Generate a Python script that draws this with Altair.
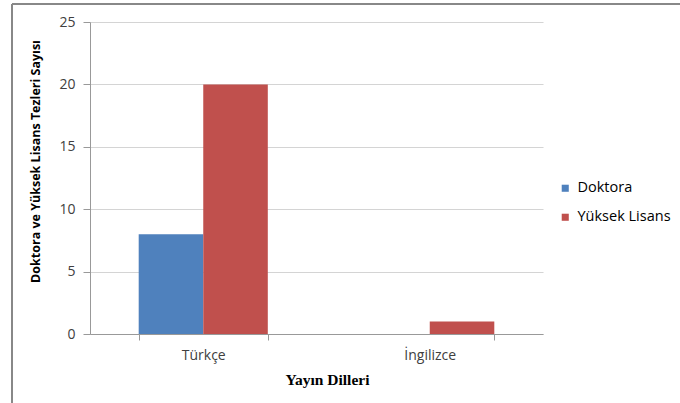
import altair as alt
import pandas as pd

diller = ["Türkçe", "İngilizce"]
turler = ["Doktora", "Yüksek Lisans"]
doktora = [8, 0]
yuksek_lisans = [20, 1]
renkler = ["#4F81BD", "#C0504D"]

rows = []
for i, d in enumerate(diller):
    rows.append({"Dil": d, "Tür": turler[0], "Sayı": doktora[i]})
    rows.append({"Dil": d, "Tür": turler[1], "Sayı": yuksek_lisans[i]})
df = pd.DataFrame(rows)

W, H = 453, 312
FONT = "Open Sans"

bars = alt.Chart(df).mark_bar(stroke=None).encode(
    x=alt.X("Dil:N", sort=diller,
            scale=alt.Scale(paddingInner=0.43, paddingOuter=0.215),
            axis=alt.Axis(title="Yayın Dilleri", labelAngle=0, tickBand="extent",
                          labelPadding=8, titlePadding=10, titleX=237,
                          titleFont="Liberation Serif", titleFontSize=15.5, titleFontWeight="bold",
                          titleColor="#000000", labelFont=FONT, labelFontSize=14,
                          labelColor="#404040", domainColor="#999999", tickColor="#999999",
                          tickSize=6, grid=False)),
    xOffset=alt.XOffset("Tür:N", sort=turler),
    y=alt.Y("Sayı:Q", scale=alt.Scale(domain=[0, 25]),
            axis=alt.Axis(title="Doktora ve Yüksek Lisans Tezleri Sayısı", values=[0, 5, 10, 15, 20, 25],
                          titleFont=FONT, titleFontSize=12.5, titleFontWeight="bold", titleColor="#000000",
                          titleX=-55, titleY=139, titleBaseline="middle",
                          labelFont=FONT, labelFontSize=14, labelColor="#404040",
                          labelPadding=8, domainColor="#999999", tickColor="#999999", tickSize=7,
                          gridColor="#D4D4D4", gridWidth=1.2)),
    color=alt.Color("Tür:N", sort=turler, scale=alt.Scale(domain=turler, range=renkler),
                    legend=alt.Legend(title=None, orient="none", legendX=468, legendY=159,
                                      symbolType="square", symbolSize=50, symbolStrokeWidth=0,
                                      labelFont=FONT, labelFontSize=14.5, labelColor="#000000",
                                      rowPadding=14, labelOffset=5)),
)

left_border = alt.Chart(pd.DataFrame({"a": [0]})).mark_rule(color="#888888", strokeWidth=2).encode(
    x=alt.value(-78), y=alt.value(-18), y2=alt.value(H + 69))
top_border = alt.Chart(pd.DataFrame({"a": [0]})).mark_rule(color="#888888", strokeWidth=2).encode(
    x=alt.value(-78), x2=alt.value(W + 137), y=alt.value(-18))

chart = alt.layer(bars, left_border, top_border).properties(
    width=W, height=H,
    background="#FFFFFF",
    autosize=alt.AutoSizeParams(type="none"),
    padding={"left": 90, "top": 22, "right": 137, "bottom": 69},
).configure_view(stroke="transparent", strokeWidth=0).configure_axisX(grid=False)

chart.save("out.html", embed_options={"renderer": "svg", "actions": False})
